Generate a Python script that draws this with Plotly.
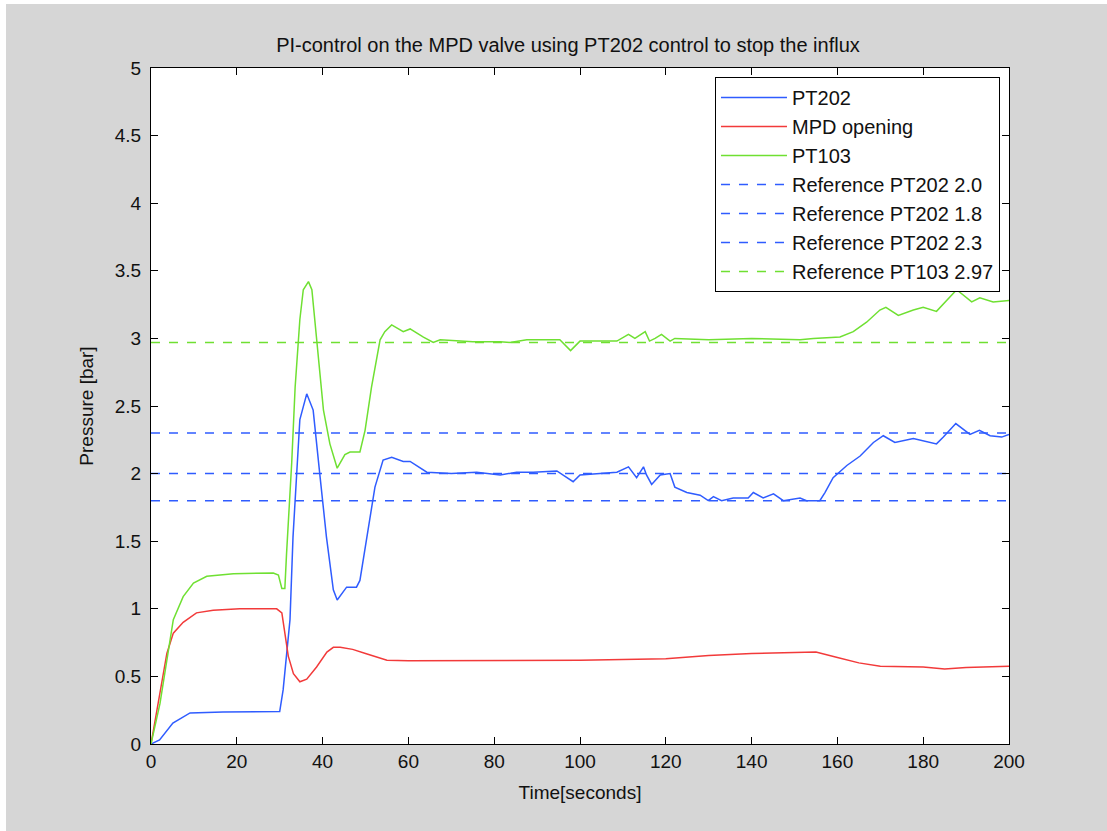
import plotly.graph_objects as go

# ---- data ----
pt202_t = [0, 2, 5.1, 9.1, 16.8, 30, 30.8, 32.4, 33.1, 34.0, 34.7, 36.3, 37.8, 39.4, 40.9, 42.5, 43.4,
           45.6, 47.9, 48.7, 50.3, 52.2, 54.1, 56.1, 58.8, 60.4, 64.3, 70, 75.9, 81.4, 85.2, 89.1, 94.6,
           98.4, 100, 104.7, 108.6, 111.3, 113.2, 114.8, 115.5, 116.7, 118.7, 121, 122.1, 124.9, 128,
           129.9, 131.1, 133, 135.7, 139.2, 140.4, 142.7, 145.1, 147.4, 149.7, 151.3, 152.8, 155.9,
           157.1, 159, 162.2, 165.3, 168.4, 170.7, 173.4, 177.7, 183.1, 184.7, 187.6, 190.9, 193.1,
           195.6, 198.3, 200]
pt202_v = [0, 0.03, 0.155, 0.23, 0.237, 0.24, 0.4, 0.92, 1.53, 2.03, 2.4, 2.59, 2.47, 1.98, 1.53, 1.14, 1.065,
           1.16, 1.16, 1.21, 1.53, 1.90, 2.10, 2.12, 2.09, 2.09, 2.01, 2.0, 2.01, 1.99, 2.01, 2.01, 2.02,
           1.94, 1.99, 2.0, 2.01, 2.05, 1.97, 2.05, 1.99, 1.92, 1.99, 2.0, 1.90, 1.86, 1.84,
           1.80, 1.83, 1.80, 1.82, 1.82, 1.86, 1.82, 1.85, 1.80, 1.81, 1.82, 1.80, 1.80,
           1.86, 1.97, 2.06, 2.13, 2.23, 2.28, 2.23, 2.26, 2.22, 2.27, 2.37, 2.29, 2.32,
           2.28, 2.27, 2.29]

mpd_t = [0, 1.3, 2.5, 3.7, 5.2, 7.5, 10.6, 14.5, 20.7, 29.3, 30.5, 31.2, 32, 33.2, 34.7, 36.3, 38.6,
         41, 42.5, 44.1, 47, 50, 55, 60, 100, 120, 130, 140, 155, 160, 165, 170, 180, 185, 190, 200]
mpd_v = [0, 0.23, 0.47, 0.67, 0.82, 0.90, 0.97, 0.99, 1.0, 1.0, 0.97, 0.82, 0.65, 0.52, 0.46, 0.48, 0.57,
         0.68, 0.715, 0.715, 0.70, 0.67, 0.62, 0.615, 0.62, 0.63, 0.655, 0.67, 0.68, 0.64, 0.60, 0.575, 0.57,
         0.555, 0.565, 0.575]

pt103_t = [0, 2.1, 3.7, 5.2, 7.5, 9.9, 13, 19.2, 28.5, 29.7, 30.5, 31.2, 31.6, 32.8, 33.6, 34.7, 35.5,
           36.7, 37.5, 38.6, 40.2, 41.7, 43.4, 45.2, 46.4, 48.7, 49.9, 51.4, 53.4, 54.5, 56.1, 58.8,
           60.4, 63.5, 65.8, 67.4, 75, 81.4, 83.7, 87.6, 95.3, 97.8, 100, 108.6, 111.3, 112.8, 115.2,
           116.2, 117.5, 119, 121, 122.1, 130, 140, 151.3, 154.4, 160.6, 163.7, 166.8, 169.9, 171.3,
           174.2, 177.7, 180, 183.1, 187.8, 191.3, 193.2, 196.3, 200]
pt103_v = [0, 0.30, 0.62, 0.92, 1.09, 1.19, 1.24, 1.26, 1.265, 1.25, 1.15, 1.15, 1.41, 2.08, 2.64, 3.14, 3.36,
           3.42, 3.36, 3.01, 2.47, 2.22, 2.04, 2.14, 2.16, 2.16, 2.32, 2.64, 2.99, 3.05, 3.10, 3.05,
           3.07, 3.01, 2.97, 2.99, 2.975, 2.975, 2.97, 2.99, 2.99, 2.91, 2.98, 2.98, 3.03, 3.0, 3.05,
           2.98, 3.0, 3.03, 2.98, 3.0, 2.99, 3.0, 2.99, 3.0, 3.01, 3.05, 3.12, 3.21, 3.23,
           3.17, 3.21, 3.23, 3.2, 3.36, 3.27, 3.30, 3.27, 3.28]

ref_names = ["Reference PT202 2.0", "Reference PT202 1.8", "Reference PT202 2.3", "Reference PT103 2.97"]
ref_values = [2.0, 1.8, 2.3, 2.97]
x_range = [0, 200]

BLUE = "#2f5cff"
RED = "#f23a3a"
GREEN = "#6fe032"
ref_colors = [BLUE, BLUE, BLUE, GREEN]

fig = go.Figure()
fig.add_trace(go.Scatter(x=pt202_t, y=pt202_v, mode="lines", name="PT202",
                         line=dict(color=BLUE, width=1.5), legendgroup="a"))
fig.add_trace(go.Scatter(x=mpd_t, y=mpd_v, mode="lines", name="MPD opening",
                         line=dict(color=RED, width=1.5), legendgroup="b"))
fig.add_trace(go.Scatter(x=pt103_t, y=pt103_v, mode="lines", name="PT103",
                         line=dict(color=GREEN, width=1.5), legendgroup="c"))
for i, (nm, v, c) in enumerate(zip(ref_names, ref_values, ref_colors)):
    fig.add_trace(go.Scatter(x=x_range, y=[v, v], mode="lines", name=nm,
                             line=dict(color=c, width=1.5, dash="dash"), legendgroup="r%d" % i))

FONT = "Liberation Sans"
axis_common = dict(showline=True, linecolor="black", linewidth=1, mirror="ticks",
                   ticks="inside", ticklen=7, tickcolor="black", showgrid=False, zeroline=False,
                   tickfont=dict(family=FONT, size=19, color="#111"))
fig.update_xaxes(range=x_range, dtick=20, tick0=0,
                 title=dict(text="Time[seconds]", font=dict(family=FONT, size=19, color="#111"), standoff=14),
                 **axis_common)
fig.update_yaxes(range=[0, 5], dtick=0.5, tick0=0, ticklabelstandoff=5,
                 title=dict(text="Pressure [bar]", font=dict(family=FONT, size=19, color="#111"), standoff=16),
                 **axis_common)

fig.update_layout(
    width=1107, height=831, autosize=False,
    margin=dict(l=151, r=98, t=68, b=87),
    paper_bgcolor="#d6d6d6", plot_bgcolor="white",
    title=dict(text="PI-control on the MPD valve using PT202 control to stop the influx",
               x=568 / 1107, xanchor="center", y=1 - 45 / 831, yanchor="middle",
               font=dict(family=FONT, size=20, color="#111")),
    legend=dict(x=0.9895, y=0.9867, xanchor="right", yanchor="top",
                bgcolor="white", bordercolor="black", borderwidth=1,
                font=dict(family=FONT, size=20, color="#111"),
                tracegroupgap=0, traceorder="grouped", itemwidth=66),
    shapes=[
        dict(type="rect", xref="paper", yref="paper", x0=-0.2, x1=-0.169, y0=-0.2, y1=1.2,
             fillcolor="white", line=dict(width=0), layer="above"),
        dict(type="rect", xref="paper", yref="paper", x0=-0.2, x1=1.2, y0=1.0947, y1=1.2,
             fillcolor="white", line=dict(width=0), layer="above"),
    ],
)

fig.write_html("out.html")
